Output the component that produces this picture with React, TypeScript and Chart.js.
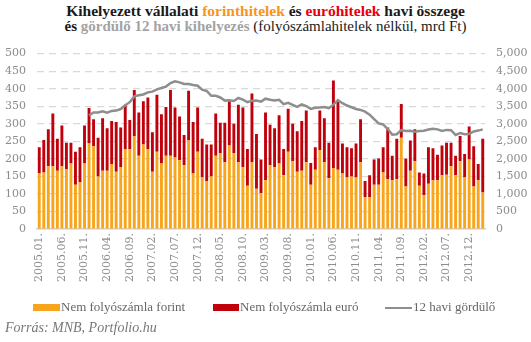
import React, { useEffect, useRef } from "react";
import { Chart, registerables } from "chart.js";
Chart.register(...registerables);

// Months 2005.01 .. 2013.03
const START_YEAR = 2005;
const MONTH_COUNT = 99;
const categories: string[] = [];
for (let i = 0; i < MONTH_COUNT; i++) {
  const y = START_YEAR + Math.floor(i / 12);
  const m = (i % 12) + 1;
  categories.push(`${y}.${m < 10 ? "0" : ""}${m}.`);
}

// Nem folyószámla forint (mrd Ft)
const forint = [
  158, 161, 179, 179, 166, 179, 171, 187, 126, 134, 187, 244,
  236, 150, 166, 166, 185, 163, 177, 228, 228, 265, 209, 241,
  228, 163, 220, 187, 209, 209, 204, 196, 182, 252, 158, 220,
  147, 137, 150, 209, 217, 190, 238, 217, 190, 177, 123, 190,
  115, 102, 139, 182, 177, 187, 153, 220, 193, 163, 166, 190,
  126, 169, 225, 190, 145, 174, 169, 158, 147, 150, 147, 190,
  91, 91, 126, 126, 161, 142, 139, 142, 260, 121, 166, 193,
  123, 96, 129, 139, 139, 153, 155, 179, 153, 193, 147, 198,
  121, 139, 104,
];

// Nem folyószámla euró (mrd Ft)
const euro = [
  75, 93, 105, 150, 91, 116, 75, 59, 94, 99, 108, 101,
  77, 110, 150, 121, 123, 142, 112, 126, 83, 131, 123, 123,
  147, 113, 163, 140, 139, 187, 142, 125, 86, 142, 147, 126,
  110, 104, 91, 120, 86, 113, 126, 83, 164, 169, 105, 196,
  156, 96, 193, 115, 110, 137, 75, 123, 107, 116, 142, 148,
  62, 64, 113, 126, 101, 249, 193, 86, 86, 80, 97, 123,
  46, 62, 72, 75, 72, 147, 70, 115, 96, 80, 86, 91,
  38, 62, 104, 91, 73, 85, 91, 67, 56, 72, 67, 94,
  115, 46, 153,
];

// 12 havi gördülő (mrd Ft, right axis)
const rolling: (number | null)[] = [
  null, null, null, null, null, null, null, null, null, null, null, 3240,
  3320, 3320, 3355, 3315, 3365, 3375, 3420, 3525, 3615, 3780, 3815, 3835,
  3895, 3915, 3980, 4020, 4060, 4160, 4210, 4180, 4135, 4130, 4105, 4085,
  3970, 3935, 3795, 3795, 3750, 3660, 3672, 3650, 3735, 3690, 3615, 3655,
  3665, 3630, 3715, 3685, 3665, 3685, 3560, 3595, 3540, 3480, 3550, 3505,
  3425, 3455, 3465, 3480, 3445, 3545, 3675, 3585, 3520, 3470, 3420, 3395,
  3345, 3260, 3130, 3010, 2980, 2850, 2690, 2700, 2820, 2795, 2800, 2775,
  2795, 2800, 2835, 2860, 2840, 2795, 2825, 2815, 2680, 2735, 2700, 2710,
  2780, 2805, 2840,
];

const TICK_FONT = { family: "DejaVu Serif", size: 11 };
const TICK_COLOR = "#8c8c8c";

export default function App() {
  const canvasRef = useRef<HTMLCanvasElement | null>(null);

  useEffect(() => {
    if (!canvasRef.current) return;
    const chart = new Chart(canvasRef.current, {
      type: "bar",
      data: {
        labels: categories,
        datasets: [
          {
            type: "line",
            label: "12 havi gördülő",
            data: rolling,
            yAxisID: "y1",
            borderColor: "#8e8e8e",
            borderWidth: 2.5,
            pointRadius: 0,
            tension: 0,
            spanGaps: false,
            order: 0,
          } as any,
          {
            label: "Nem folyószámla forint",
            data: forint,
            backgroundColor: "#F9A51B",
            stack: "s",
            yAxisID: "y",
            barPercentage: 0.64,
            categoryPercentage: 1,
            order: 1,
          },
          {
            label: "Nem folyószámla euró",
            data: euro,
            backgroundColor: "#C0000B",
            stack: "s",
            yAxisID: "y",
            barPercentage: 0.64,
            categoryPercentage: 1,
            order: 1,
          },
        ],
      },
      options: {
        animation: false,
        responsive: false,
        maintainAspectRatio: false,
        layout: { padding: { top: 6, bottom: 0, left: 0, right: 0 } },
        plugins: {
          legend: { display: false },
          title: { display: false },
          tooltip: { enabled: false },
        },
        scales: {
          x: {
            stacked: true,
            grid: { display: false, drawTicks: false },
            border: { display: true, color: "#d0d0d0", width: 1.5 },
            ticks: {
              autoSkip: false,
              maxRotation: 90,
              minRotation: 90,
              padding: 4,
              color: TICK_COLOR,
              font: TICK_FONT,
              callback: (_v: any, i: number) => (i % 5 === 0 ? categories[i] : ""),
            },
            afterFit: (s: any) => {
              s.height = 71;
            },
          },
          y: {
            stacked: true,
            position: "left",
            min: 0,
            max: 500,
            ticks: { stepSize: 50, color: TICK_COLOR, font: TICK_FONT, padding: 11 },
            grid: { color: "#d9d9d9", drawTicks: false, lineWidth: 1.2 },
            border: { display: false, dash: [7, 5] },
            afterFit: (s: any) => {
              s.width = 37;
            },
          },
          y1: {
            position: "right",
            min: 0,
            max: 5000,
            ticks: { stepSize: 500, color: TICK_COLOR, font: TICK_FONT, padding: 11 },
            grid: { display: false, drawTicks: false },
            border: { display: false },
            afterFit: (s: any) => {
              s.width = 46;
            },
          },
        },
      } as any,
    });
    return () => chart.destroy();
  }, []);

  const serif = "'Liberation Serif', 'DejaVu Serif', serif";

  return (
    <div
      style={{
        position: "absolute",
        left: 0,
        top: 0,
        width: 531,
        height: 342,
        background: "#fff",
        fontFamily: serif,
        overflow: "hidden",
      }}
    >
      <div
        style={{
          position: "absolute",
          top: 3,
          left: 0,
          width: 531,
          textAlign: "center",
          fontWeight: "bold",
          color: "#1a1a1a",
          whiteSpace: "nowrap",
        }}
      >
        <div style={{ fontSize: 15.5, lineHeight: "15px" }}>
          Kihelyezett vállalati <span style={{ color: "#F7941D" }}>forinthitelek</span> és{" "}
          <span style={{ color: "#E8000B" }}>euróhitelek</span> havi összege
        </div>
        <div style={{ fontSize: 15, lineHeight: "16px" }}>
          és <span style={{ color: "#a3a3a3" }}>gördülő 12 havi kihelyezés</span>{" "}
          <span style={{ fontWeight: "normal" }}> (folyószámlahitelek nélkül, mrd Ft)</span>
        </div>
      </div>

      <canvas
        ref={canvasRef}
        width={531}
        height={264}
        style={{ position: "absolute", left: 0, top: 36, width: 531, height: 264 }}
      />

      <div
        style={{
          position: "absolute",
          top: 298,
          left: 0,
          width: 531,
          height: 20,
          fontSize: 13,
          color: "#666",
          whiteSpace: "nowrap",
        }}
      >
        <span style={{ position: "absolute", left: 33, top: 6, width: 27, height: 7, background: "#F9A51B" }} />
        <span style={{ position: "absolute", left: 61, top: 1, lineHeight: "16px" }}>Nem folyószámla forint</span>
        <span style={{ position: "absolute", left: 213, top: 6, width: 26, height: 7, background: "#C0000B" }} />
        <span style={{ position: "absolute", left: 240, top: 1, lineHeight: "16px" }}>Nem folyószámla euró</span>
        <span style={{ position: "absolute", left: 385, top: 9, width: 27, height: 2, background: "#8e8e8e" }} />
        <span style={{ position: "absolute", left: 413, top: 1, lineHeight: "16px" }}>12 havi gördülő</span>
      </div>

      <div
        style={{
          position: "absolute",
          left: 5,
          top: 320,
          fontSize: 14,
          fontStyle: "italic",
          color: "#777",
          lineHeight: "16px",
          whiteSpace: "nowrap",
        }}
      >
        Forrás: MNB, Portfolio.hu
      </div>
    </div>
  );
}
